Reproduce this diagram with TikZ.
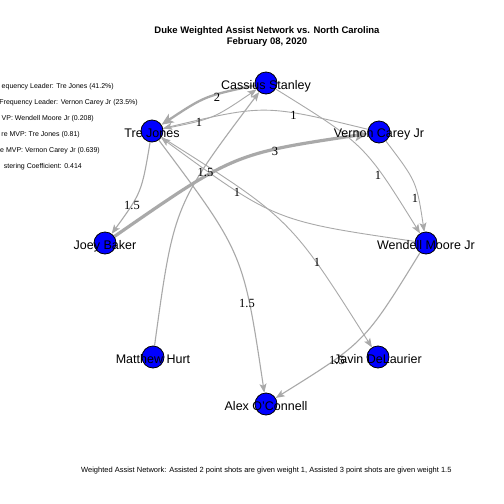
\documentclass[tikz,border=0pt]{standalone}
\usepackage{fontspec}
\setmainfont{Liberation Sans}
\newfontfamily\edgefont{Liberation Serif}
\usetikzlibrary{arrows.meta}
\pgfdeclarelayer{bglayer}
\pgfdeclarelayer{edgelayer}
\pgfsetlayers{bglayer,edgelayer,main}
\definecolor{edgegray}{RGB}{169,169,169}
\definecolor{nodeblue}{RGB}{0,0,255}
\tikzset{
  player/.style={circle, draw=black, line width=0.8pt, fill=nodeblue, minimum size=22pt, inner sep=0pt},
  plabel/.style={anchor=base, inner sep=0pt, font=\fontsize{12.5}{13}\selectfont, text=black},
  elabel/.style={anchor=center, inner sep=0pt, font=\edgefont\fontsize{12.5}{13}\selectfont, text=black},
  legend/.style={anchor=base east, inner sep=0pt, font=\fontsize{7}{8}\selectfont, text=black},
  thinedge/.style={draw=edgegray, line width=0.9pt, -{Stealth[length=9pt,width=7pt,inset=2pt]}},
  midedge/.style={draw=edgegray, line width=1.1pt, -{Stealth[length=9pt,width=7pt,inset=2pt]}},
  thickedge/.style={draw=edgegray, line width=2.3pt, -{Stealth[length=12pt,width=10pt,inset=3pt]}},
  heavyedge/.style={draw=edgegray, line width=3.2pt, -{Stealth[length=13pt,width=11pt,inset=3pt]}},
}
\begin{document}
\begin{tikzpicture}[x=1pt,y=-1pt]
\begin{pgfonlayer}{bglayer}
\fill[white] (0,0) rectangle (504,504);
\end{pgfonlayer}
\useasboundingbox (0,0) rectangle (504,504);
% title
\node[anchor=base, inner sep=0pt, font=\bfseries\fontsize{9.5}{10}\selectfont] (title1) at (267,33.5) {Duke Weighted Assist Network vs. North Carolina};
\node[anchor=base, inner sep=0pt, font=\bfseries\fontsize{9.5}{10}\selectfont] (title2) at (267,44) {February 08, 2020};
% legend
\node[legend] (leg1) at (114,88) {equency Leader: Tre Jones (41.2\%)};
\node[legend] (leg2) at (138,104) {Frequency Leader: Vernon Carey Jr (23.5\%)};
\node[legend] (leg3) at (94,120) {VP: Wendell Moore Jr (0.208)};
\node[legend] (leg4) at (80,136) {re MVP: Tre Jones (0.81)};
\node[legend] (leg5) at (100,152) {e MVP: Vernon Carey Jr (0.639)};
\node[legend] (leg6) at (82,168) {stering Coefficient: 0.414};
% caption
\node[anchor=base west, inner sep=0pt, font=\fontsize{7.5}{8}\selectfont] (caption) at (81,472) {Weighted Assist Network: Assisted 2 point shots are given weight 1, Assisted 3 point shots are given weight 1.5};
% players
\node[player] (cas) at (266,83) {};
\node[player] (tre) at (152,131) {};
\node[player] (ver) at (379,132) {};
\node[player] (joe) at (105,243) {};
\node[player] (wen) at (426,243) {};
\node[player] (mat) at (153,357) {};
\node[player] (jav) at (378,357) {};
\node[player] (ale) at (266,404) {};
% edges
\begin{pgfonlayer}{edgelayer}
\draw[thickedge] (cas) .. controls (205,96) .. (tre);
\draw[thinedge] (tre) .. controls (213,119) .. (cas);
\draw[thinedge] (ver) .. controls (264.8,104.2) .. (tre);
\draw[heavyedge] (joe) .. controls (234,153.5) .. (ver);
\draw[midedge] (mat) .. controls (173.8,205.3) .. (cas);
\draw[midedge] (tre) .. controls (141.6,192.5) .. (joe);
\draw[thinedge] (wen) .. controls (275,221.1) .. (tre);
\draw[thinedge] (tre) .. controls (290.5,218.5) .. (jav);
\draw[midedge] (tre) .. controls (243.4,253.1) .. (ale);
\draw[thinedge] (cas) .. controls (364.7,144.3) .. (wen);
\draw[thinedge] (ver) .. controls (416.6,181.5) .. (wen);
\draw[midedge] (wen) .. controls (364.9,342.3) .. (ale);
\end{pgfonlayer}
% edge labels
\node[elabel] (l1) at (217,97) {2};
\node[elabel] (l2) at (199,122) {1};
\node[elabel] (l3) at (293.5,115.5) {1};
\node[elabel] (l4) at (275,151) {3};
\node[elabel] (l5) at (205.5,172) {1.5};
\node[elabel] (l6) at (132,205) {1.5};
\node[elabel] (l7) at (237,192) {1};
\node[elabel] (l8) at (317,262) {1};
\node[elabel] (l9) at (247,303) {1.5};
\node[elabel] (l10) at (378,175) {1};
\node[elabel] (l11) at (415,198) {1};
\node[elabel] (l12) at (337,360) {1.5};
% player labels
\node[plabel] (tcas) at (266,89) {Cassius Stanley};
\node[plabel] (ttre) at (152,137) {Tre Jones};
\node[plabel] (tver) at (379,137.5) {Vernon Carey Jr};
\node[plabel] (tjoe) at (105,249) {Joey Baker};
\node[plabel] (twen) at (426,249) {Wendell Moore Jr};
\node[plabel] (tmat) at (153,363) {Matthew Hurt};
\node[plabel] (tjav) at (378,363) {Javin DeLaurier};
\node[plabel] (tale) at (266,410) {Alex O'Connell};
\end{tikzpicture}
\end{document}
